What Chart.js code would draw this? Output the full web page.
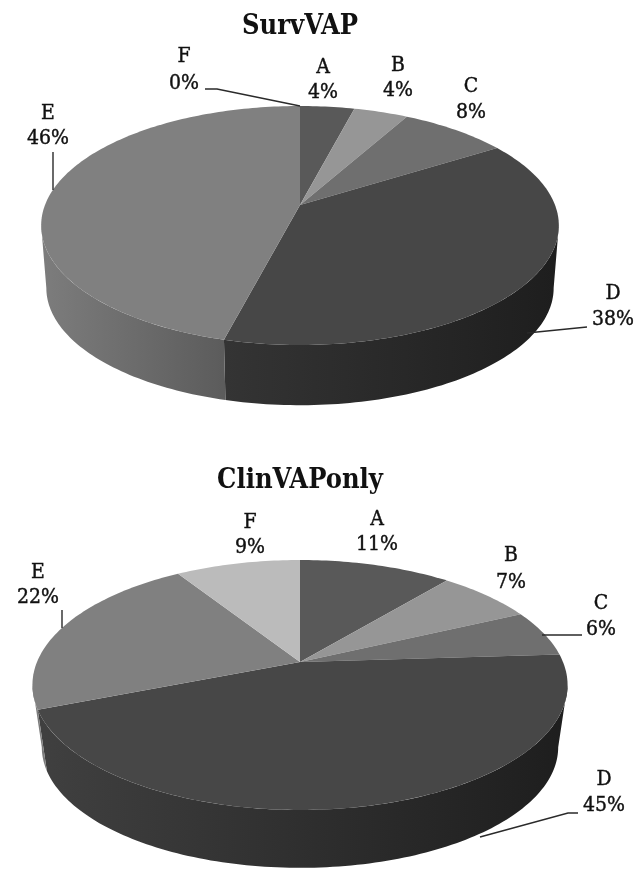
<!DOCTYPE html>
<html>
<head>
<meta charset="utf-8">
<style>
  html, body { margin: 0; padding: 0; background: #fff; }
  #page { position: relative; width: 638px; height: 869px; overflow: hidden; }
  .pie { position: absolute; left: 0; width: 638px; }
</style>
</head>
<body>
<div id="page">
  <div class="pie" style="top:0;height:435px"><canvas id="survChart"></canvas></div>
  <div class="pie" style="top:435px;height:434px"><canvas id="clinChart"></canvas></div>
</div>
<script src="https://cdn.jsdelivr.net/npm/chart.js@4/dist/chart.umd.min.js"></script>
<script>
const categories = ['A', 'B', 'C', 'D', 'E', 'F'];
const survValues = [4, 4, 8, 38, 46, 0];
const clinValues = [11, 7, 6, 45, 22, 9];

const topColors = ['#595959', '#969696', '#6f6f6f', '#474747', '#808080', '#bbbbbb'];
// rim shading runs across the whole disc, left edge to right edge
const sideLeftColors = ['#3a3a3a', '#5c5c5c', '#454545', '#404040', '#7c7c7c', '#777777'];
const sideRightColors = ['#2c2c2c', '#4c4c4c', '#383838', '#1e1e1e', '#202020', '#666666'];

// label centres [x, first line y, second line y], page pixels
const survLabelPos = [[323, 68, 93], [398, 66, 91], [471, 87, 113], [613, 294, 320], [48, 114, 139], [184, 57, 84]];
const clinLabelPos = [[377, 520, 545], [511, 556, 583], [601, 604, 630], [604, 780, 806], [38, 573, 598], [250, 523, 548]];

// leader lines, page pixels
const survLeaders = [
  [[205, 89], [217, 89], [300, 106]],
  [[587, 327], [527, 333]],
  [[53, 152], [53, 190]]
];
const clinLeaders = [
  [[582, 635], [542, 635]],
  [[578, 813], [568, 813], [480, 837]],
  [[62, 610], [62, 628]]
];

const FONT = '"DejaVu Serif Condensed", "DejaVu Serif", serif';

// perspective mapping of the pie disc: the centre stays where Chart.js put it,
// the near half of the disc is stretched and the far half is squeezed
function skewOf(p) {
  return -(p.down - p.up) / (p.down + p.up);
}

function projector(center, p, scale, drop) {
  const c = skewOf(p);
  const a = p.up * (1 - c);
  return angle => {
    const u = Math.cos(angle), v = Math.sin(angle);
    const w = 1 + c * v;
    return [center.x + scale * p.rx * u / w, center.y + drop + scale * a * v / w];
  };
}

function arcPoints(project, from, to) {
  const steps = Math.max(2, Math.ceil((to - from) / 0.02));
  const pts = [];
  for (let i = 0; i <= steps; i++) pts.push(project(from + (to - from) * i / steps));
  return pts;
}

function tracePath(ctx, pts) {
  ctx.beginPath();
  pts.forEach((pt, i) => i ? ctx.lineTo(pt[0], pt[1]) : ctx.moveTo(pt[0], pt[1]));
  ctx.closePath();
}

const tiltedPie = {
  id: 'tiltedPie',
  beforeDatasetDraw(chart, args, opts) {
    const ctx = chart.ctx;
    const arcs = chart.getDatasetMeta(args.index).data;
    const top = projector(arcs[0], opts, 1, 0);
    const bottom = projector(arcs[0], opts, opts.shrink, opts.depth);
    // the disc is widest a little below its centre, the rim runs between those two points
    const edge = Math.asin(-skewOf(opts));

    arcs.forEach((arc, i) => {
      const from = Math.max(arc.startAngle, edge), to = Math.min(arc.endAngle, Math.PI - edge);
      if (to <= from) return;
      const upper = arcPoints(top, from, to);
      const lower = arcPoints(bottom, from, to);
      const grad = ctx.createLinearGradient(arc.x - opts.rx, 0, arc.x + opts.rx, 0);
      grad.addColorStop(0, sideLeftColors[i]);
      grad.addColorStop(1, sideRightColors[i]);
      tracePath(ctx, upper.concat(lower.reverse()));
      ctx.fillStyle = grad;
      ctx.fill();
    });

    arcs.forEach((arc, i) => {
      if (arc.endAngle - arc.startAngle <= 0) return;
      tracePath(ctx, [[arc.x, arc.y]].concat(arcPoints(top, arc.startAngle, arc.endAngle)));
      ctx.fillStyle = topColors[i];
      ctx.fill();
    });
    return false;
  },
  afterDraw(chart, args, opts) {
    const ctx = chart.ctx;
    const values = chart.data.datasets[0].data;
    ctx.save();
    ctx.translate(0, -opts.pageTop);

    ctx.strokeStyle = '#2a2a2a';
    ctx.lineWidth = 1.4;
    opts.leaders.forEach(line => {
      ctx.beginPath();
      line.forEach((pt, i) => i ? ctx.lineTo(pt[0], pt[1]) : ctx.moveTo(pt[0], pt[1]));
      ctx.stroke();
    });

    ctx.fillStyle = '#111';
    ctx.strokeStyle = '#111';
    ctx.lineWidth = 0.4;
    ctx.textAlign = 'center';
    ctx.textBaseline = 'middle';
    ctx.font = '21px ' + FONT;
    categories.forEach((name, i) => {
      const pos = opts.labels[i];
      const pct = values[i] + '%';
      ctx.fillText(name, pos[0], pos[1]);
      ctx.strokeText(name, pos[0], pos[1]);
      ctx.fillText(pct, pos[0], pos[2]);
      ctx.strokeText(pct, pos[0], pos[2]);
    });
    ctx.restore();
  }
};

function makePie(id, title, values, layout, geometry) {
  return new Chart(document.getElementById(id), {
    type: 'pie',
    data: {
      labels: categories,
      datasets: [{ data: values, backgroundColor: topColors, borderWidth: 0 }]
    },
    options: {
      responsive: true,
      maintainAspectRatio: false,
      animation: false,
      layout: { padding: layout.padding },
      plugins: {
        legend: { display: false },
        tooltip: { enabled: false },
        title: {
          display: true,
          text: title,
          color: '#111',
          font: { family: FONT, size: 27, weight: 'bold', lineHeight: 30 / 27 },
          padding: layout.titlePadding
        },
        tiltedPie: geometry
      }
    },
    plugins: [tiltedPie]
  });
}

makePie('survChart', 'SurvVAP', survValues,
  { padding: { top: 0, right: 38, bottom: 71, left: 0 }, titlePadding: { top: 12, bottom: 4 } },
  { rx: 255, up: 99, down: 140, depth: 63, shrink: 0.98, pageTop: 0, labels: survLabelPos, leaders: survLeaders });

makePie('clinChart', 'ClinVAPonly', clinValues,
  { padding: { top: 0, right: 38, bottom: 47, left: 0 }, titlePadding: { top: 31, bottom: 6 } },
  { rx: 263, up: 102, down: 148, depth: 63, shrink: 0.965, pageTop: 435, labels: clinLabelPos, leaders: clinLeaders });
</script>
</body>
</html>
